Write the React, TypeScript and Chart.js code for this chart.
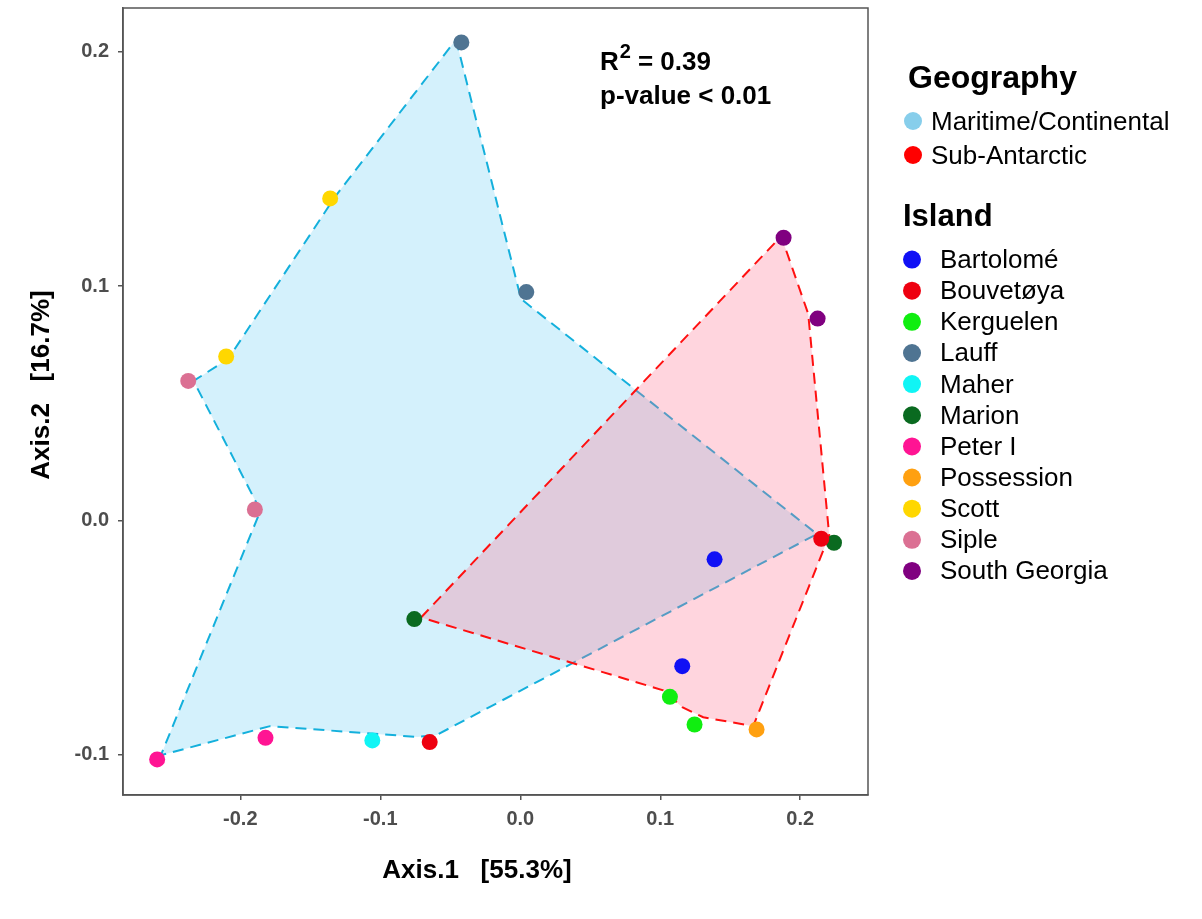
import React, { useEffect, useRef } from "react";
import { Chart, registerables } from "chart.js";
Chart.register(...registerables);

const FONT = '"Liberation Sans", Arial, Helvetica, sans-serif';

const islandNames = ["Bartolomé", "Bouvetøya", "Kerguelen", "Lauff", "Maher", "Marion", "Peter I", "Possession", "Scott", "Siple", "South Georgia"];
const islandColors = ["#1010F5", "#EE0010", "#10EE10", "#4F7492", "#10F5F5", "#0A6A20", "#FF1493", "#FFA010", "#FFD700", "#DB7093", "#800080"];

const sampleIsland = [0, 0, 1, 1, 2, 2, 3, 3, 4, 5, 5, 6, 6, 7, 8, 8, 9, 9, 10, 10];
const axis1Values = [0.1388, 0.1157, -0.0647, 0.215, 0.1069, 0.1245, -0.0421, 0.0043, -0.1057, -0.0757, 0.2241, -0.2594, -0.182, 0.1688, -0.1358, -0.2101, -0.2372, -0.1896, 0.1881, 0.2124];
const axis2Values = [-0.0167, -0.0623, -0.0947, -0.0079, -0.0754, -0.0872, 0.204, 0.0974, -0.094, -0.0422, -0.0096, -0.1021, -0.0929, -0.0893, 0.1374, 0.0699, 0.0595, 0.0046, 0.1206, 0.0861];

const geographyNames = ["Maritime/Continental", "Sub-Antarctic"];
const geographyColors = ["#87CEEB", "#FF0000"];

const maritimeHullX = [-0.0459, 0.0005, 0.2119, -0.0598, -0.0736, -0.1788, -0.2567, -0.1856, -0.2334, -0.2086, -0.1321];
const maritimeHullY = [0.2052, 0.0945, -0.0059, -0.0917, -0.0925, -0.0879, -0.1003, 0.0041, 0.0595, 0.0689, 0.1383];
const subAntarcticHullX = [-0.0709, 0.1864, 0.2057, 0.2207, 0.1664, 0.1307, 0.1157, 0.1021];
const subAntarcticHullY = [-0.0415, 0.1213, 0.0881, -0.0065, -0.0879, -0.0841, -0.0798, -0.0726];

const xTickValues = [-0.2, -0.1, 0, 0.1, 0.2];
const yTickValues = [-0.1, 0, 0.1, 0.2];
const xAxisTitle = "Axis.1   [55.3%]";
const yAxisTitle = "Axis.2   [16.7%]";
const rSquaredText = "= 0.39";
const pValueText = "p-value < 0.01";

function closedHull(xs: number[], ys: number[]) {
  const pts = xs.map((x, i) => ({ x, y: ys[i] }));
  pts.push({ x: xs[0], y: ys[0] });
  return pts;
}

const overlayPlugin = {
  id: "overlay",
  afterDraw(chart: any) {
    const ctx = chart.ctx as CanvasRenderingContext2D;
    const a = chart.chartArea;
    ctx.save();
    // panel box
    ctx.strokeStyle = "#555";
    ctx.lineWidth = 1.5;
    ctx.strokeRect(a.left, a.top, a.right - a.left, a.bottom - a.top);

    // axis titles
    ctx.fillStyle = "#000";
    ctx.font = `bold 26px ${FONT}`;
    ctx.textAlign = "center";
    ctx.textBaseline = "alphabetic";
    ctx.fillText(xAxisTitle, 477, 878);
    ctx.save();
    ctx.translate(49, 385);
    ctx.rotate(-Math.PI / 2);
    ctx.fillText(yAxisTitle, 0, 0);
    ctx.restore();

    // stats annotation
    ctx.textAlign = "left";
    ctx.font = `bold 26px ${FONT}`;
    ctx.fillText("R", 600, 70);
    let x = 600 + ctx.measureText("R").width + 1;
    ctx.font = `bold 20px ${FONT}`;
    ctx.fillText("2", x, 58);
    x += ctx.measureText("2").width + 7;
    ctx.font = `bold 26px ${FONT}`;
    ctx.fillText(rSquaredText, x, 70);
    ctx.fillText(pValueText, 600, 104);

    // legend: Geography
    ctx.font = `bold 32px ${FONT}`;
    ctx.fillText("Geography", 908, 88);
    ctx.font = `26px ${FONT}`;
    geographyNames.forEach((name, i) => {
      const cy = 121 + i * 34;
      ctx.fillStyle = geographyColors[i];
      ctx.beginPath();
      ctx.arc(913, cy, 9, 0, Math.PI * 2);
      ctx.fill();
      ctx.fillStyle = "#000";
      ctx.fillText(name, 931, cy + 9);
    });

    // legend: Island
    ctx.font = `bold 31px ${FONT}`;
    ctx.fillText("Island", 903, 226);
    ctx.font = `26px ${FONT}`;
    islandNames.forEach((name, i) => {
      const cy = 259.6 + i * 31.13;
      ctx.fillStyle = islandColors[i];
      ctx.beginPath();
      ctx.arc(912, cy, 9, 0, Math.PI * 2);
      ctx.fill();
      ctx.fillStyle = "#000";
      ctx.fillText(name, 940, cy + 8.5);
    });
    ctx.restore();
  },
};

export default function App() {
  const ref = useRef<HTMLCanvasElement>(null);
  useEffect(() => {
    if (!ref.current) return;
    const islandDatasets = islandNames.map((name, k) => ({
      label: name,
      data: sampleIsland
        .map((isl, i) => (isl === k ? { x: axis1Values[i], y: axis2Values[i] } : null))
        .filter((p) => p !== null),
      pointRadius: 8,
      pointBackgroundColor: islandColors[k],
      pointBorderWidth: 0,
      pointBorderColor: "rgba(0,0,0,0)",
      showLine: false,
      order: 1,
    }));
    const tickFont = { family: FONT, size: 20, weight: "bold" as const };
    const chart = new Chart(ref.current, {
      type: "scatter",
      data: {
        datasets: [
          ...islandDatasets,
          {
            label: "Sub-Antarctic hull",
            data: closedHull(subAntarcticHullX, subAntarcticHullY),
            showLine: true,
            pointRadius: 0,
            borderColor: "#FF1010",
            borderWidth: 2,
            borderDash: [11, 7],
            backgroundColor: "rgba(255,105,135,0.28)",
            fill: "shape",
            tension: 0,
            order: 2,
          },
          {
            label: "Maritime hull",
            data: closedHull(maritimeHullX, maritimeHullY),
            showLine: true,
            pointRadius: 0,
            borderColor: "#14B0DC",
            borderWidth: 2,
            borderDash: [11, 7],
            backgroundColor: "rgba(100,205,245,0.28)",
            fill: "shape",
            tension: 0,
            order: 3,
          },
        ] as any,
      },
      options: {
        responsive: false,
        animation: false,
        devicePixelRatio: 1,
        layout: { padding: { left: 0, top: 6, right: 334, bottom: 0 } },
        plugins: { legend: { display: false }, tooltip: { enabled: false } },
        scales: {
          x: {
            type: "linear",
            min: -0.2838,
            max: 0.2484,
            afterBuildTicks: (s: any) => {
              s.ticks = xTickValues.map((v) => ({ value: v }));
            },
            afterFit: (s: any) => {
              s.height = 124;
              s.paddingLeft = 0;
              s.paddingRight = 0;
            },
            ticks: {
              callback: (v: any) => Number(v).toFixed(1),
              font: tickFont,
              color: "#4d4d4d",
              padding: 7,
              maxRotation: 0,
              autoSkip: false,
            },
            grid: { display: true, drawOnChartArea: false, drawTicks: true, tickLength: 5, color: "#555", lineWidth: 1.5 },
            border: { display: true, color: "#555", width: 1.5 },
          },
          y: {
            type: "linear",
            min: -0.1173,
            max: 0.2187,
            afterBuildTicks: (s: any) => {
              s.ticks = yTickValues.map((v) => ({ value: v }));
            },
            afterFit: (s: any) => {
              s.width = 123;
              s.paddingTop = 0;
              s.paddingBottom = 0;
            },
            ticks: {
              callback: (v: any) => Number(v).toFixed(1),
              font: tickFont,
              color: "#4d4d4d",
              padding: 9,
              autoSkip: false,
            },
            grid: { display: true, drawOnChartArea: false, drawTicks: true, tickLength: 5, color: "#555", lineWidth: 1.5 },
            border: { display: true, color: "#555", width: 1.5 },
          },
        },
      } as any,
      plugins: [overlayPlugin],
    });
    return () => chart.destroy();
  }, []);
  return (
    <div style={{ position: "absolute", left: 0, top: 0, width: 1202, height: 919, background: "#fff" }}>
      <canvas ref={ref} width={1202} height={919} />
    </div>
  );
}
